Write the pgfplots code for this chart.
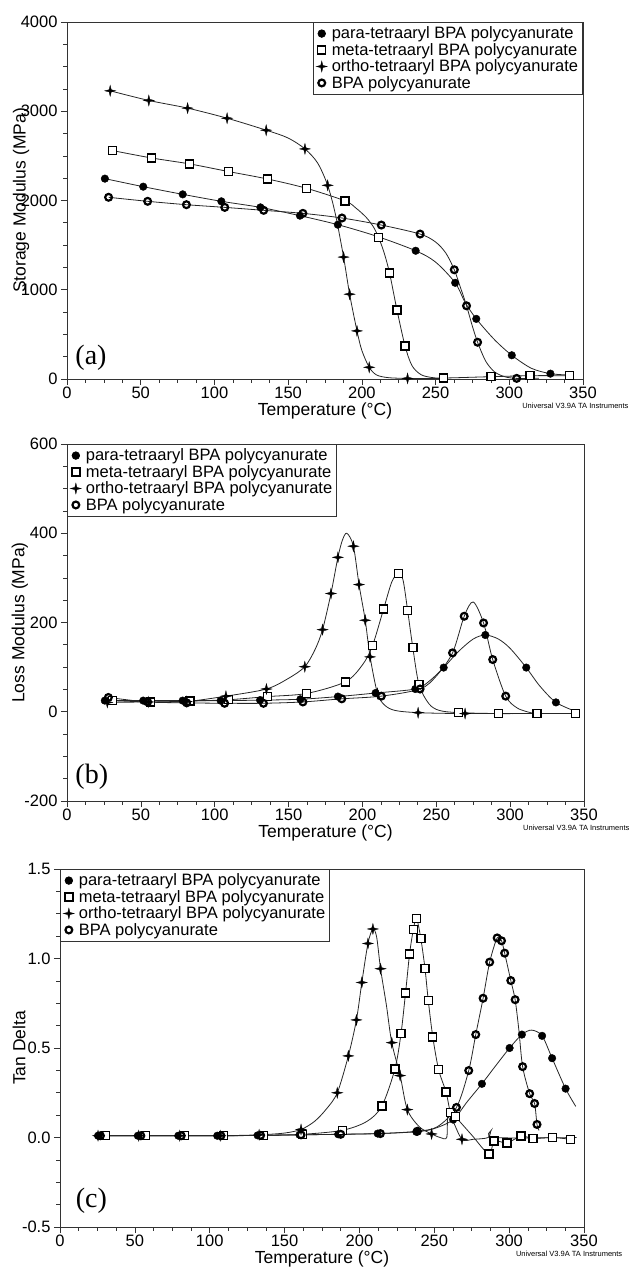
\documentclass[border=0pt]{standalone}
\usepackage{fontspec}
\setmainfont{Liberation Sans}
\newfontfamily\panelfont{Liberation Serif}
\usepackage{pgfplots}
\usepackage{pgfplotstable}
\pgfplotsset{compat=1.18}

% four-pointed star used for the ortho series
\pgfdeclareplotmark{star4}{%
  \pgfpathmoveto{\pgfqpoint{0pt}{\pgfplotmarksize}}%
  \pgfpathlineto{\pgfqpoint{0.2\pgfplotmarksize}{0.2\pgfplotmarksize}}%
  \pgfpathlineto{\pgfqpoint{\pgfplotmarksize}{0pt}}%
  \pgfpathlineto{\pgfqpoint{0.2\pgfplotmarksize}{-0.2\pgfplotmarksize}}%
  \pgfpathlineto{\pgfqpoint{0pt}{-\pgfplotmarksize}}%
  \pgfpathlineto{\pgfqpoint{-0.2\pgfplotmarksize}{-0.2\pgfplotmarksize}}%
  \pgfpathlineto{\pgfqpoint{-\pgfplotmarksize}{0pt}}%
  \pgfpathlineto{\pgfqpoint{-0.2\pgfplotmarksize}{0.2\pgfplotmarksize}}%
  \pgfpathclose
  \pgfusepathqfillstroke}

% columns: T (deg C), value, m = 1 where a marker is drawn
% ---- (a) storage modulus, MPa
\pgfplotstableread{
T v m
25.7 2245 1
51.7 2155 1
78.5 2069 1
104.7 1991 1
131.2 1923 1
158 1830 1
183.7 1729 1
210 1600 0
236.5 1437 1
250 1310 0
263.3 1078 1
270 860 0
277.6 674 1
290 440 0
301.7 266 1
315 120 0
327.9 60 1
340 45 0
}\aPara
\pgfplotstableread{
T v m
30.7 2560 1
57.2 2477 1
83.2 2410 1
109.7 2324 1
136 2241 1
162.4 2137 1
188.7 1995 1
196 1915 0
203 1810 0
208 1700 0
211.3 1587 1
215 1420 0
218.8 1186 1
223.8 775 1
229.3 370 1
234 150 0
240 50 0
247 18 0
255.3 11 1
287.6 26 1
314.1 37 1
340.7 37 1
}\aMeta
\pgfplotstableread{
T v m
29.3 3229 1
55.5 3121 1
81.8 3035 1
108.6 2922 1
135.1 2788 1
150 2700 0
161.4 2578 1
170 2420 0
176.8 2170 1
182 1850 0
187.6 1366 1
191.7 950 1
196.7 539 1
200 320 0
205 131 1
210 45 0
218 15 0
231 7 1
255 5 0
}\aOrtho
\pgfplotstableread{
T v m
28.2 2036 1
54.7 1991 1
81 1953 1
107 1923 1
133.4 1890 1
160 1856 1
186.5 1804 1
213.2 1725 1
239.5 1624 1
250 1535 0
257 1410 0
262.7 1224 1
267 1020 0
271 820 1
275 590 0
278.5 412 1
284 200 0
290 80 0
297 25 0
305 7 1
320 8 0
}\aBPA

% ---- (b) loss modulus, MPa
\pgfplotstableread{
T v m
25.6 25 1
51.6 25 1
78.3 25 1
104 25 1
130.7 26 1
158 28 1
183.4 34 1
208.9 42 1
235.8 51 1
245 68 0
255 99 1
265 135 0
275 163 0
283.2 172 1
292 163 0
300 142 0
310.9 99 1
320 58 0
331 21 1
345 0 0
}\bPara
\pgfplotstableread{
T v m
31 25 1
56.5 22 1
83.3 24 1
109.5 27 1
135.7 34 1
162.2 41 1
188.4 67 1
200 105 0
206.8 148 1
214.3 230 1
220 292 0
224.5 310 1
227.5 295 0
230.6 227 1
234.1 144 1
238.3 61 1
245 18 0
252 3 0
265 -2 1
292 -4 1
318.3 -4 1
344.2 -4 1
}\bMeta
\pgfplotstableread{
T v m
27.3 21 1
55 22 1
81 23 1
107.6 35 1
135 51 1
150 75 0
161 101 1
168 140 0
173 184 1
178.7 265 1
183.4 346 1
186.5 385 0
189.5 400 0
193.9 371 1
197.7 285 1
201.9 205 1
205.2 123 1
210.2 41 1
215 15 0
222 3 0
237.7 -2 1
269.5 -4 1
345 -4 0
}\bOrtho
\pgfplotstableread{
T v m
28 32 1
54.6 22 1
81 20 1
106.7 19 1
133 19 1
159.7 22 1
186 29 1
212.8 35 1
239 51 1
250 80 0
261 132 1
268.9 214 1
275 246 0
282 199 1
288.2 117 1
297 35 1
305 8 0
315 -3 0
}\bBPA

% ---- (c) tan delta
\pgfplotstableread{
T v m
25.4 0.01 1
52 0.01 1
79 0.01 1
105 0.01 1
132 0.012 1
160 0.015 1
185.8 0.018 1
212.2 0.022 1
238 0.032 1
250 0.05 0
262.6 0.1 1
272 0.2 0
281.8 0.30 1
290 0.39 0
300.3 0.50 1
308.5 0.575 1
315 0.6 0
322 0.568 1
328.7 0.443 1
337.7 0.273 1
344.5 0.174 0
}\cPara
\pgfplotstableread{
T v m
30.3 0.01 1
57 0.01 1
83.2 0.01 1
109.4 0.01 1
135.8 0.012 1
162 0.018 1
188.5 0.04 1
205 0.09 0
215 0.176 1
223.7 0.383 1
227.8 0.582 1
230.8 0.808 1
233.5 1.026 1
236 1.161 1
238.1 1.225 1
241 1.112 1
243.8 0.943 1
246 0.764 1
249 0.562 1
252.9 0.379 1
257.8 0.255 1
260.8 0.141 1
264 0.117 1
275 0.014 0
286.5 -0.093 1
290 -0.02 1
298.6 -0.03 1
308 0.008 1
316 -0.005 1
329 0.0 1
341 -0.01 1
}\cMeta
\pgfplotstableread{
T v m
25.4 0.01 1
52.6 0.01 1
80 0.01 1
107 0.01 1
133 0.015 1
150 0.025 0
161 0.045 1
170 0.09 0
178 0.16 0
185.2 0.25 1
192.6 0.456 1
198 0.657 1
201.6 0.866 1
205.7 1.084 1
209 1.165 1
211.5 1.12 0
214.1 0.943 1
218 0.74 0
221.6 0.53 1
227.2 0.346 1
232 0.156 1
240 0.06 0
248.2 0.02 1
254 0.0 0
258.3 0.0 0
259 0.12 0
262 0.1 0
268.5 -0.01 1
276 -0.01 0
286 0.0 0
288 0.04 0
290 0.0 0
345 0.0 0
}\cOrtho
\pgfplotstableread{
T v m
27 0.01 1
54 0.01 1
81 0.01 1
107.5 0.01 1
134 0.012 1
161 0.015 1
187.5 0.018 1
214 0.022 1
238.7 0.035 1
252 0.06 0
264.8 0.168 1
273 0.374 1
277.7 0.575 1
282.6 0.778 1
287 0.98 1
292 1.115 1
294.9 1.099 1
297 1.03 1
301.1 0.877 1
304 0.77 1
306.5 0.6 0
309 0.396 1
313.7 0.245 1
317 0.19 1
318.6 0.073 1
320 0.04 0
}\cBPA

\pgfplotsset{
  dma/.style={
    scale only axis, clip=false,
    xmin=0, xmax=350, xtick={0,50,...,350},
    minor x tick num=3, minor y tick num=3,
    tick align=outside, tick pos=left,
    major tick length=6pt, minor tick length=3.5pt,
    axis line style={line width=0.9pt, black!80},
    every tick/.style={black!80, line width=0.7pt},
    tick label style={font=\fontsize{16.5}{18}\selectfont},
    xticklabel style={inner sep=1.5pt},
    label style={font=\fontsize{17.5}{19}\selectfont},
    /pgf/number format/assume math mode=true,
    /pgf/number format/set thousands separator={},
    xlabel={Temperature (°C)},
    xlabel style={at={(axis description cs:0.5,-0.067)}, anchor=north, inner sep=0pt},
    legend style={draw=black!80, line width=0.7pt, inner sep=3pt,
      font=\fontsize{16.5}{17}\selectfont, column sep=3pt,
      nodes={inner sep=1.5pt},
      legend image code/.code={\draw[##1] plot coordinates {(0.15cm,0cm)};}},
    legend cell align=left,
  },
  curve/.style={black!85, line width=0.8pt, smooth, tension=0.5, no marks, forget plot},
  mk/.style={only marks, restrict expr to domain={\thisrow{m}}{0.5:1.5}},
  mpara/.style={mk, black, mark=*, mark size=3.8pt},
  mmeta/.style={mk, black, mark=square*, mark size=4pt,
    mark options={fill=white, draw=black, line width=1.4pt}},
  mortho/.style={mk, black, mark=star4, mark size=5.5pt,
    mark options={fill=black, draw=black, line width=0.3pt}},
  mbpa/.style={mk, black, mark=o, mark size=3.4pt, mark options={line width=2.2pt}},
}

\newcommand{\series}[4]{%
  \addplot[curve] table[x=T,y=v]{#1};
  \addplot[curve] table[x=T,y=v]{#2};
  \addplot[curve] table[x=T,y=v]{#3};
  \addplot[curve] table[x=T,y=v]{#4};
  \addplot[mpara] table[x=T,y=v]{#1};
  \addplot[mmeta] table[x=T,y=v]{#2};
  \addplot[mortho] table[x=T,y=v]{#3};
  \addplot[mbpa] table[x=T,y=v]{#4};
  \legend{para-tetraaryl BPA polycyanurate, meta-tetraaryl BPA polycyanurate,
    ortho-tetraaryl BPA polycyanurate, BPA polycyanurate}}

\newcommand{\instr}{\node[anchor=west, inner sep=0pt, font=\fontsize{7.5}{8}\selectfont]
  at (rel axis cs:0.882,-0.075) {Universal V3.9A TA Instruments};}

\begin{document}
\begin{tikzpicture}
\useasboundingbox (0pt,0pt) rectangle (639pt,-1271pt);

% (a)
\begin{axis}[dma, at={(67pt,-379pt)}, anchor=south west,
  width=516pt, height=357pt,
  ymin=0, ymax=4000, ytick={0,1000,...,4000},
  ylabel={Storage Modulus (MPa)},
  ylabel style={at={(axis description cs:-0.089,0.5)}, anchor=center},
  legend style={at={(1,1)}, anchor=north east}]
\series{\aPara}{\aMeta}{\aOrtho}{\aBPA}
\node[anchor=west, inner sep=0pt, font=\panelfont\fontsize{28}{30}\selectfont]
  at (rel axis cs:0.016,0.06) {(a)};
\instr
\end{axis}

% (b)
\begin{axis}[dma, at={(67pt,-801pt)}, anchor=south west,
  width=517pt, height=357pt,
  ymin=-200, ymax=600, ytick={-200,0,...,600},
  ylabel={Loss Modulus (MPa)},
  ylabel style={at={(axis description cs:-0.091,0.5)}, anchor=center},
  legend style={at={(0,1)}, anchor=north west}]
\series{\bPara}{\bMeta}{\bOrtho}{\bBPA}
\node[anchor=west, inner sep=0pt, font=\panelfont\fontsize{28}{30}\selectfont]
  at (rel axis cs:0.016,0.067) {(b)};
\instr
\end{axis}

% (c)
\begin{axis}[dma, at={(60pt,-1227pt)}, anchor=south west,
  width=524pt, height=358pt,
  ymin=-0.5, ymax=1.5, ytick={-0.5,0,...,1.5},
  yticklabel style={/pgf/number format/fixed, /pgf/number format/fixed zerofill,
    /pgf/number format/precision=1},
  xlabel style={at={(axis description cs:0.5,-0.066)}},
  ylabel={Tan Delta},
  ylabel style={at={(axis description cs:-0.078,0.5)}, anchor=center},
  legend style={at={(0,1)}, anchor=north west}]
\series{\cPara}{\cMeta}{\cOrtho}{\cBPA}
\node[anchor=west, inner sep=0pt, font=\panelfont\fontsize{28}{30}\selectfont]
  at (rel axis cs:0.03,0.074) {(c)};
\node[anchor=west, inner sep=0pt, font=\fontsize{7.5}{8}\selectfont]
  at (rel axis cs:0.87,-0.075) {Universal V3.9A TA Instruments};
\end{axis}
\end{tikzpicture}
\end{document}
